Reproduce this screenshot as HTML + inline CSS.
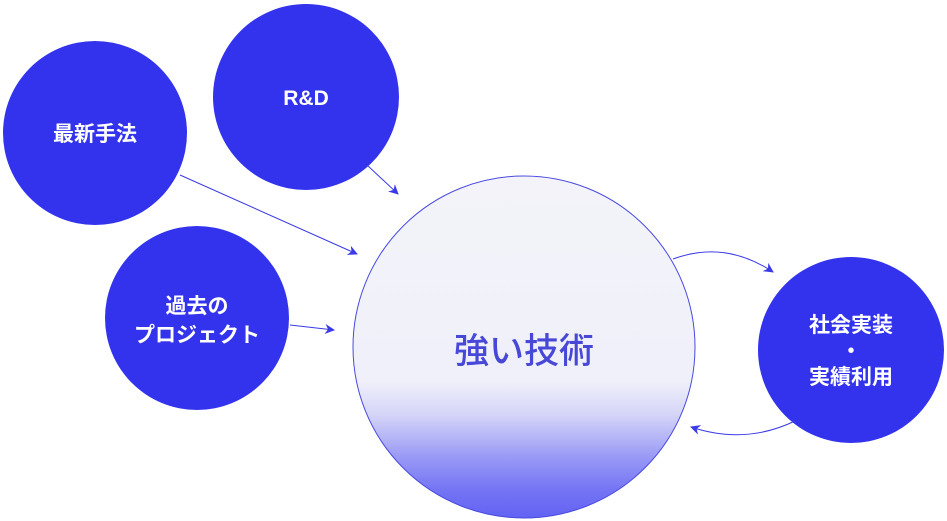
<!DOCTYPE html>
<html><head><meta charset="utf-8"><style>
body{margin:0;background:#fff;}
svg{display:block;}
text{font-family:"Liberation Sans","Noto Sans CJK JP",sans-serif;font-weight:bold;}
</style></head><body>
<svg width="947" height="521" viewBox="0 0 947 521">
<defs>
<linearGradient id="g" x1="0" y1="0" x2="0" y2="1">
<stop offset="0" stop-color="#f3f3f9"/>
<stop offset="0.6" stop-color="#f0f0fa"/>
<stop offset="0.7" stop-color="#d4d4f8"/>
<stop offset="0.82" stop-color="#9a9af6"/>
<stop offset="0.92" stop-color="#7474f4"/>
<stop offset="1" stop-color="#6262f4"/>
</linearGradient>
<marker id="a" markerWidth="10" markerHeight="10" refX="9" refY="5" orient="auto" markerUnits="userSpaceOnUse">
<path d="M0,0 L10,5 L0,10 L3,5 Z" fill="#3a3ae6"/>
</marker>
</defs>
<circle cx="524" cy="347" r="171" fill="url(#g)" stroke="#4a4ae0" stroke-width="1"/>
<circle cx="95" cy="133" r="92" fill="#3333ee"/>
<circle cx="306" cy="97" r="93" fill="#3333ee"/>
<circle cx="197" cy="318" r="92" fill="#3333ee"/>
<circle cx="851" cy="350" r="93" fill="#3333ee"/>
<g stroke="#3a3ae6" stroke-width="1" fill="none">
<line x1="367" y1="165" x2="398" y2="194" marker-end="url(#a)"/>
<line x1="180" y1="175" x2="357" y2="254" marker-end="url(#a)"/>
<line x1="290" y1="325" x2="334" y2="330" marker-end="url(#a)"/>
<path d="M673,259 Q725,240 773,272" marker-end="url(#a)"/>
<path d="M795,421 Q745,445 691,427" marker-end="url(#a)"/>
</g>
<g fill="#fff" font-size="21" text-anchor="middle">
<text x="95" y="141">最新手法</text>
<text x="306" y="105">R&amp;D</text>
<text x="197" y="313">過去の</text>
<text x="197" y="342">プロジェクト</text>
<text x="851" y="332">社会実装</text>
<text x="851" y="358">・</text>
<text x="851" y="384">実績利用</text>
</g>
<text x="524" y="363" font-size="35" fill="#4848d8" text-anchor="middle" style="font-weight:500">強い技術</text>
</svg>
</body></html>
